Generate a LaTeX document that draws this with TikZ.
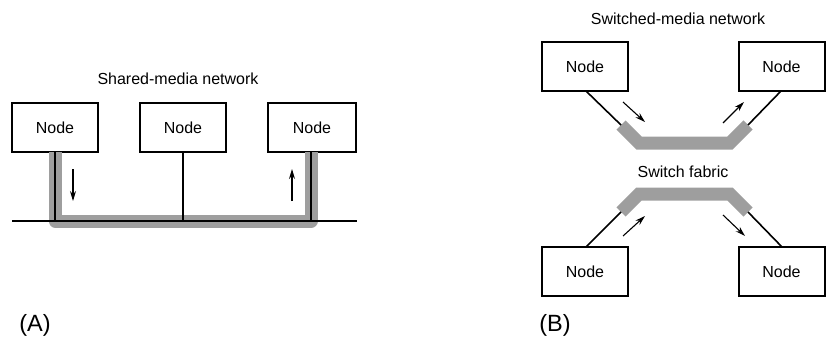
\documentclass[tikz,border=0pt]{standalone}
\usepackage{fontspec}
\setmainfont{Liberation Sans}
\usetikzlibrary{arrows.meta}
\definecolor{bandgray}{RGB}{158,158,158}
\tikzset{
  nodebox/.style={draw=black, line width=2pt, minimum width=86pt, minimum height=49pt, inner sep=0pt, font=\fontsize{16}{19}\selectfont},
  label/.style={inner sep=0pt, font=\fontsize{16}{19}\selectfont},
  biglabel/.style={inner sep=0pt, font=\fontsize{23.5}{28}\selectfont},
  wire/.style={line width=1.6pt},
  band/.style={draw=bandgray, line width=13pt},
  flow/.style={line width=1.1pt, -{Stealth[length=10pt,width=6pt]}}
}
\begin{document}
\begin{tikzpicture}[x=1pt,y=-1pt]
\useasboundingbox (0,0) rectangle (826,338);
% ---------- Panel A ----------
\node[label] (titleA) at (178,79) {Shared-media network};
\node[nodebox] (a1) at (55,127.5) {Node};
\node[nodebox] (a2) at (183,127.5) {Node};
\node[nodebox, minimum width=88pt] (a3) at (312,127.5) {Node};
\coordinate (busL) at (12,221);
\coordinate (busR) at (357,221);
\coordinate (j1) at (55,221);
\coordinate (j2) at (183,221);
\coordinate (j3) at (311,221);
\coordinate (t1) at (55,152);
\coordinate (t3) at (311,152);
\draw[band, line join=round] (t1) -- (j1) -- (j3) -- (t3);
\draw[wire] (busL) -- (busR);
\draw[wire] (t1) -- (j1);
\draw[wire] (a2.south) -- (j2);
\draw[wire] (t3) -- (j3);
\coordinate (ad1) at (73,169);
\coordinate (ad2) at (73,201);
\coordinate (au1) at (292,201);
\coordinate (au2) at (292,169);
\draw[flow] (ad1) -- (ad2);
\draw[flow] (au1) -- (au2);
\node[biglabel] (labA) at (35,325) {(A)};
% ---------- Panel B ----------
\node[label] (titleB) at (678,19) {Switched-media network};
\node[nodebox] (b1) at (585,66.5) {Node};
\node[nodebox] (b2) at (781.5,66.5) {Node};
\node[nodebox] (b3) at (585,271.5) {Node};
\node[nodebox] (b4) at (781.5,271.5) {Node};
\node[label] (fabric) at (683,172) {Switch fabric};
% top fabric
\coordinate (f1) at (621,125);
\coordinate (f2) at (639,143);
\coordinate (f3) at (730,143);
\coordinate (f4) at (748,125);
\draw[band, line join=miter] (f1) -- (f2) -- (f3) -- (f4);
% bottom fabric
\coordinate (g1) at (621,212);
\coordinate (g2) at (639,194);
\coordinate (g3) at (730,194);
\coordinate (g4) at (748,212);
\draw[band, line join=miter] (g1) -- (g2) -- (g3) -- (g4);
\coordinate (b1p) at (586,91);
\coordinate (b2p) at (781,91);
\coordinate (b3p) at (586,247);
\coordinate (b4p) at (782,247);
\draw[wire] (b1p) -- (f1);
\draw[wire] (b2p) -- (f4);
\draw[wire] (b3p) -- (g1);
\draw[wire] (b4p) -- (g4);
\coordinate (p1) at (623,102);
\coordinate (p2) at (645,122);
\coordinate (p3) at (723,123);
\coordinate (p4) at (744,102);
\coordinate (p5) at (623,236);
\coordinate (p6) at (645,216);
\coordinate (p7) at (723,215);
\coordinate (p8) at (745,236);
\draw[flow] (p1) -- (p2);
\draw[flow] (p3) -- (p4);
\draw[flow] (p5) -- (p6);
\draw[flow] (p7) -- (p8);
\node[biglabel] (labB) at (555,325) {(B)};
\end{tikzpicture}
\end{document}
